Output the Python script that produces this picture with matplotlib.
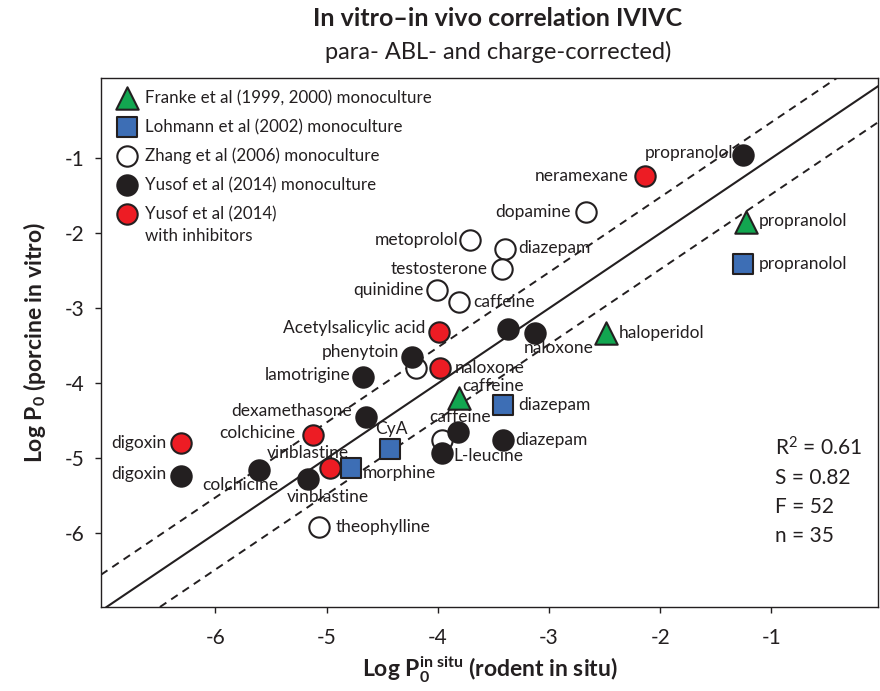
import matplotlib
matplotlib.use('Agg')
import matplotlib.pyplot as plt

plt.rcParams['font.family'] = ['Lato', 'DejaVu Sans']
plt.rcParams['mathtext.fontset'] = 'custom'
plt.rcParams['mathtext.rm'] = 'Lato'
plt.rcParams['mathtext.it'] = 'Lato:italic'
plt.rcParams['mathtext.bf'] = 'Lato:bold'
plt.rcParams['axes.unicode_minus'] = False

INK = '#231f20'

# ---- data (log P0 in situ, log P0 in vitro) ----
franke_names = ['propranolol', 'haloperidol', 'caffeine']
franke_x = [-1.23, -2.49, -3.81]
franke_y = [-1.85, -3.33, -4.20]

lohmann_names = ['propranolol', 'diazepam', 'CyA', 'morphine']
lohmann_x = [-1.25, -3.41, -4.43, -4.78]
lohmann_y = [-2.41, -4.29, -4.88, -5.13]

zhang_names = ['dopamine', 'metoprolol', 'diazepam', 'testosterone', 'quinidine',
               'caffeine', '', '', 'theophylline']
zhang_x = [-2.67, -3.71, -3.40, -3.42, -4.01, -3.81, -4.20, -3.96, -5.07]
zhang_y = [-1.71, -2.09, -2.21, -2.47, -2.76, -2.92, -3.79, -4.76, -5.92]

yusof_names = ['propranolol', '', 'naloxone', 'phenytoin', 'lamotrigine', 'dexamethasone',
               'caffeine', 'L-leucine', 'diazepam', 'digoxin', 'colchicine', 'vinblastine']
yusof_x = [-1.25, -3.37, -3.13, -4.23, -4.67, -4.65, -3.82, -3.96, -3.41, -6.31, -5.61, -5.17]
yusof_y = [-0.96, -3.28, -3.33, -3.65, -3.92, -4.45, -4.65, -4.93, -4.75, -5.23, -5.15, -5.28]

inhib_names = ['neramexane', 'Acetylsalicylic acid', 'naloxone', 'colchicine', 'vinblastine', 'digoxin']
inhib_x = [-2.14, -3.99, -3.98, -5.12, -4.97, -6.31]
inhib_y = [-1.24, -3.31, -3.79, -4.69, -5.13, -4.79]

# label offsets in pixels (dx, dy, ha) for each point, same order as above
franke_off = [(13, 1, 'left'), (13, 0, 'left'), (3, 12, 'left')]
lohmann_off = [(15, 0, 'left'), (15, 0, 'left'), (1, 20, 'center'), (12, -5, 'left')]
zhang_off = [(-15, 0, 'right'), (-12, 0, 'right'), (14, 1, 'left'), (-15, 0, 'right'),
             (-13, 0, 'right'), (14, 0, 'left'), (0, 0, 'left'), (0, 0, 'left'), (17, 0, 'left')]
yusof_off = [(-10, 2, 'right'), (0, 0, 'left'), (24, -15, 'center'), (-13, 5, 'right'),
             (-13, 2, 'right'), (-14, 6, 'right'), (2, 15, 'center'), (11, -3, 'left'),
             (12, 0, 'left'), (-15, 2, 'right'), (-19, -15, 'center'), (20, -18, 'center')]
inhib_off = [(-16, 0, 'right'), (-14, 4, 'right'), (15, 0, 'left'), (-18, 2, 'right'),
             (-22, 15, 'center'), (-15, 0, 'right')]

legend_labels = ['Franke et al (1999, 2000) monoculture',
                 'Lohmann et al (2002) monoculture',
                 'Zhang et al (2006) monoculture',
                 'Yusof et al (2014) monoculture',
                 'Yusof et al (2014)']

stats = ['R$^2$ = 0.61', 'S = 0.82', 'F = 52', 'n = 35']
fit_offset = 0.48

fig = plt.figure(figsize=(8.8, 6.91), dpi=100)
ax = fig.add_axes([101/880, 1-607/691, 777/880, (607-78)/691])
ax.set_xlim(-7.03, -0.04)
ax.set_ylim(-6.98, 0.07)

# regression line and +/- bands
ax.axline((0, 0), slope=1, color=INK, lw=1.5, zorder=1)
ax.axline((0, fit_offset), slope=1, color=INK, lw=1.4, ls=(0, (4, 3)), zorder=1)
ax.axline((0, -fit_offset), slope=1, color=INK, lw=1.4, ls=(0, (4, 3)), zorder=1)

series = [
    (zhang_x, zhang_y, zhang_names, zhang_off, 'o', 'white', 215),
    (yusof_x, yusof_y, yusof_names, yusof_off, 'o', INK, 215),
    (inhib_x, inhib_y, inhib_names, inhib_off, 'o', '#ed1c24', 215),
    (lohmann_x, lohmann_y, lohmann_names, lohmann_off, 's', '#3d6eb5', 190),
    (franke_x, franke_y, franke_names, franke_off, '^', '#12a650', 260),
]

for z, (xs, ys, names, offs, m, c, s) in enumerate(series):
    ax.scatter(xs, ys, marker=m, s=s, facecolor=c, edgecolor=INK, linewidth=1.5, zorder=3 + z)
    for x, y, name, (dx, dy, ha) in zip(xs, ys, names, offs):
        if name:
            ax.annotate(name, (x, y), xytext=(dx * 0.72, dy * 0.72), textcoords='offset points',
                        ha=ha, va='center', fontsize=12.5, color=INK, zorder=10)

# legend drawn by hand so the two-line entry lines up like the original
leg_y = [98, 127, 156, 185, 214]
for (xs, ys, names, offs, m, c, s), lab, py in zip(
        [series[4], series[3], series[0], series[1], series[2]], legend_labels, leg_y):
    yy = 1 - (py - 78) / (607 - 78)
    ax.scatter([(127 - 101) / 777], [yy], marker=m, s=s, facecolor=c, edgecolor=INK,
               linewidth=1.5, transform=ax.transAxes, clip_on=False, zorder=12)
    ax.text((145 - 101) / 777, yy, lab, transform=ax.transAxes, ha='left', va='center',
            fontsize=12.2, color=INK)
ax.text((145 - 101) / 777, 1 - (236 - 78) / (607 - 78), 'with inhibitors', transform=ax.transAxes,
        ha='left', va='center', fontsize=12.2, color=INK)

for i, t in enumerate(stats):
    ax.text((775 - 101) / 777, 1 - (448 + 29.5 * i - 78) / (607 - 78), t, transform=ax.transAxes,
            ha='left', va='center', fontsize=15, color=INK)

ax.set_xticks([-6, -5, -4, -3, -2, -1])
ax.set_yticks([-6, -5, -4, -3, -2, -1])
ax.tick_params(direction='out', length=4, width=1, colors=INK, labelsize=15)
ax.tick_params(axis='x', pad=11)
ax.tick_params(axis='y', pad=8)
for sp in ax.spines.values():
    sp.set_color(INK)
    sp.set_linewidth(1.0)

ax.set_xlabel(r'Log P$_\mathbf{0}^\mathbf{in\ situ}$ (rodent in situ)', fontsize=16.5,
              fontweight='bold', color=INK, labelpad=5)
ax.set_ylabel(r'Log P$_\mathbf{0}$ (porcine in vitro)', fontsize=16.5, fontweight='bold',
              color=INK, labelpad=12)

fig.text(498/880, 1 - 18/691, 'In vitro\u2013in vivo correlation IVIVC', ha='center', va='center',
         fontsize=18, fontweight='bold', color=INK)
fig.text(498/880, 1 - 52/691, 'para- ABL- and charge-corrected)', ha='center', va='center',
         fontsize=17, color=INK)

fig.savefig('out.png', dpi=100)
